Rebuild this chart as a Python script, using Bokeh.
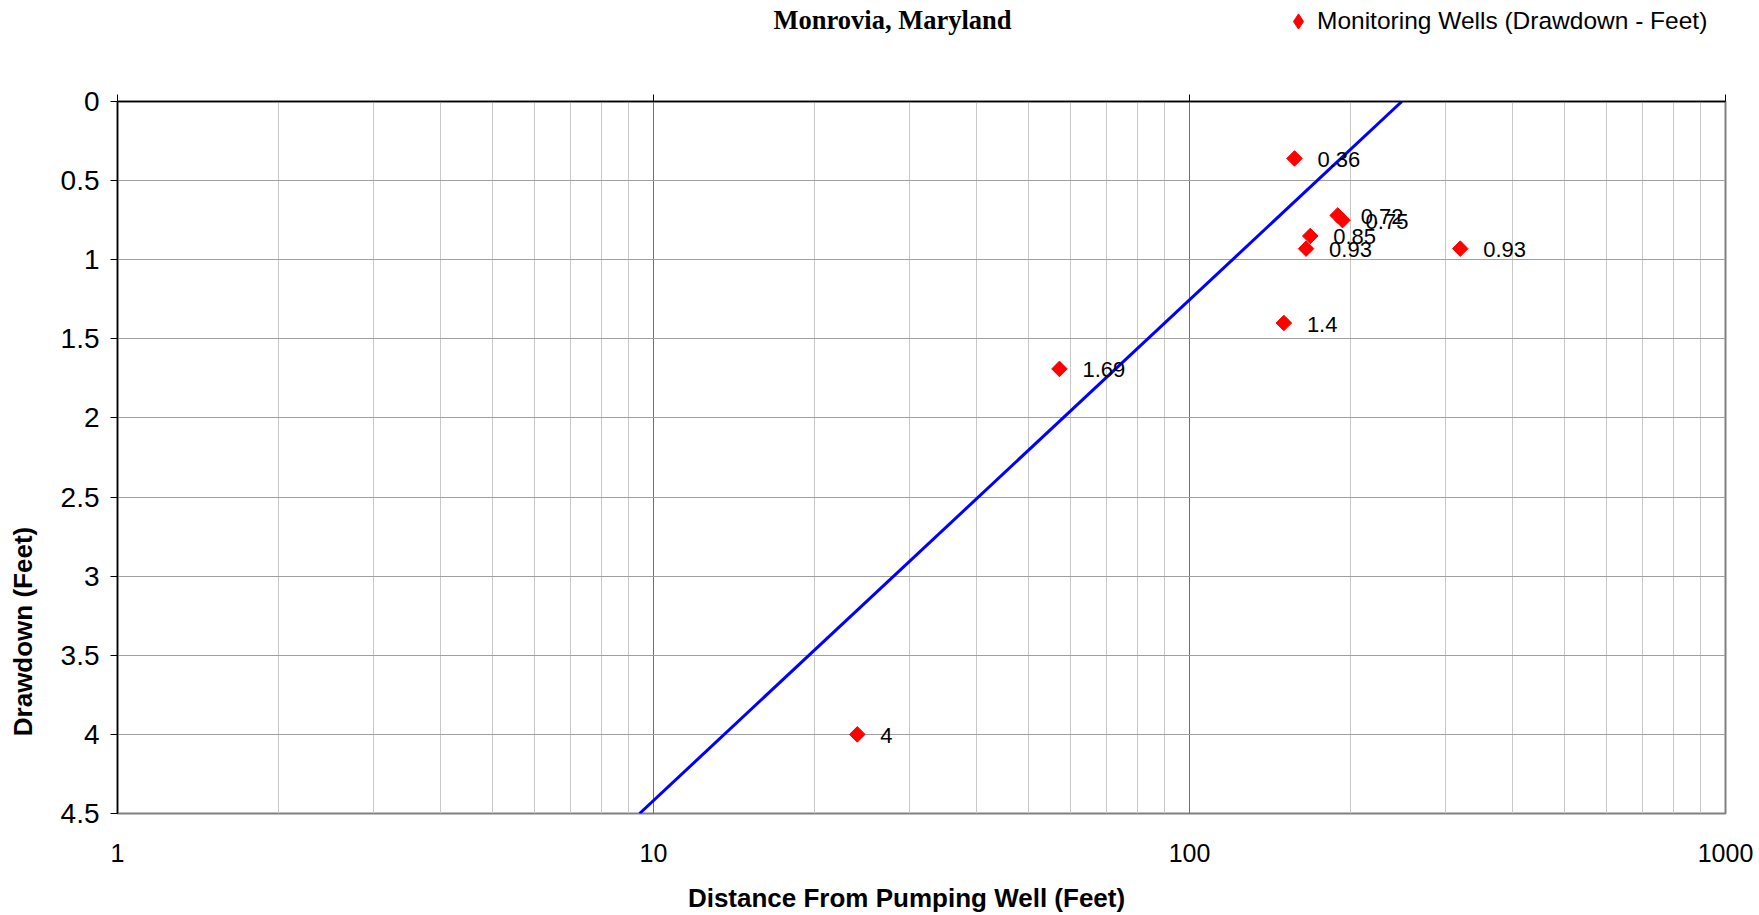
from bokeh.plotting import figure
from bokeh.layouts import column, row
from bokeh.models import (Range1d, FixedTicker, NumeralTickFormatter,
                          CustomJSTickFormatter, LogAxis, Label, Legend, LegendItem,
                          ColumnDataSource)
from bokeh.core.properties import value
from bokeh.embed import file_html
from bokeh.resources import INLINE
import math

# ---- data ----
distance_ft = [157, 189, 193, 168, 165, 320, 150, 57.2, 24]
drawdown_ft = [0.36, 0.72, 0.75, 0.85, 0.93, 0.93, 1.4, 1.69, 4.0]
point_labels = ["0.36", "0.72", "0.75", "0.85", "0.93", "0.93", "1.4", "1.69", "4"]
fit_distance_ft = [9.42, 249.0]
fit_drawdown_ft = [4.5, 0.0]
x_ticks = [1, 10, 100, 1000]
x_minor = [m * 10 ** e for e in range(3) for m in range(2, 10)]
y_ticks = [0, 0.5, 1, 1.5, 2, 2.5, 3, 3.5, 4, 4.5]

title_text = "Monrovia, Maryland"
legend_text = "Monitoring Wells (Drawdown - Feet)"
x_title = "Distance From Pumping Well (Feet)"
y_title = "Drawdown (Feet)"

SANS = "Liberation Sans"
SERIF = "Liberation Serif"
W, H = 1759, 915
STRIP_W = 45            # left strip holding the y-axis title
HEAD_H = 80
FOOT_H = 38
MAIN_H = H - HEAD_H - FOOT_H
FRAME_L, FRAME_R = 117, 1725      # plot-area edges on the page
INNER_W = W - STRIP_W
LEFT = FRAME_L - STRIP_W
RIGHT = W - FRAME_R


def banner(width, height, xr, left, right):
    f = figure(width=width, height=height, x_range=Range1d(*xr),
               y_range=Range1d(height, 0),
               output_backend="svg", toolbar_location=None, title=None,
               x_axis_location=None, y_axis_location=None,
               min_border_left=left, min_border_right=right,
               min_border_top=0, min_border_bottom=0,
               outline_line_color=None, background_fill_color="white",
               border_fill_color="white")
    f.xgrid.grid_line_color = None
    f.ygrid.grid_line_color = None
    return f


# ---------------- left strip (y-axis title) ----------------
strip = banner(STRIP_W, H, (0, STRIP_W), 0, 0)
strip.add_layout(Label(x=22, y=631, text=y_title, text_font=SANS,
                       text_font_style="bold", text_font_size="26px",
                       angle=math.pi / 2, text_align="center",
                       text_baseline="middle", text_color="black"))

# ---------------- header (title + legend) ----------------
head = banner(INNER_W, HEAD_H, (FRAME_L, FRAME_R), LEFT, RIGHT)
head.add_layout(Label(x=892, y=19, text=title_text, text_font=SERIF,
                      text_font_style="bold", text_font_size="26.5px",
                      text_align="center", text_baseline="middle",
                      text_color="black"))

# legend key renderer (kept outside the visible range; only its glyph style is used)
key = head.scatter(x=[-1e6], y=[-1e6], marker="diamond", fill_color="#FF0000",
                   line_color="#FF0000")
legend = Legend(items=[LegendItem(label=legend_text, renderers=[key])],
                location=(1298 - 19 - FRAME_L, 40), border_line_color=None,
                background_fill_alpha=0, padding=0, margin=0, spacing=0,
                glyph_width=38, glyph_height=38, label_height=38,
                label_standoff=0, label_text_font=SANS,
                label_text_font_size="24.5px", label_text_color="black",
                label_text_baseline="middle")
head.add_layout(legend)

# ---------------- footer (x-axis title) ----------------
foot = banner(INNER_W, FOOT_H, (FRAME_L, FRAME_R), LEFT, RIGHT)
foot.add_layout(Label(x=906, y=897 - (H - FOOT_H), text=x_title, text_font=SANS,
                      text_font_style="bold", text_font_size="26px",
                      text_align="center", text_baseline="middle",
                      text_color="black"))

# ---------------- main chart ----------------
p = figure(width=INNER_W, height=MAIN_H, x_axis_type="log",
           x_range=Range1d(1, 1000), y_range=Range1d(4.5, 0),
           output_backend="svg", toolbar_location=None, title=None,
           min_border_left=LEFT, min_border_right=RIGHT,
           min_border_top=21, min_border_bottom=MAIN_H - 21 - 712,
           background_fill_color="white", border_fill_color="white")

p.outline_line_color = "#808080"
p.outline_line_width = 2

xa = p.xaxis[0]
xa.ticker = FixedTicker(ticks=x_ticks)
xa.formatter = NumeralTickFormatter(format="0")
xa.axis_line_color = None
xa.major_tick_line_color = None
xa.minor_tick_line_color = None
xa.major_tick_out = 0
xa.major_tick_in = 0
xa.minor_tick_out = 0
xa.major_label_standoff = 30
xa.major_label_text_font = SANS
xa.major_label_text_font_size = "25px"
xa.major_label_text_color = "black"

top = LogAxis(ticker=FixedTicker(ticks=x_ticks), major_label_text_color=None,
              major_label_text_font_size="0px",
              axis_line_color="black", axis_line_width=1.5,
              major_tick_line_color="black", major_tick_out=7, major_tick_in=0,
              minor_tick_line_color=None, minor_tick_out=0, major_label_standoff=0)
p.add_layout(top, "above")

ya = p.yaxis[0]
ya.ticker = FixedTicker(ticks=y_ticks)
ya.formatter = CustomJSTickFormatter(code="return String(tick);")
ya.axis_line_color = "black"
ya.axis_line_width = 1.5
ya.major_tick_line_color = "black"
ya.major_tick_out = 7
ya.major_tick_in = 0
ya.minor_tick_line_color = None
ya.major_label_standoff = 11
ya.major_label_text_font = SANS
ya.major_label_text_font_size = "28px"
ya.major_label_text_color = "black"

p.xgrid.ticker = FixedTicker(ticks=x_ticks, minor_ticks=x_minor)
p.xgrid.grid_line_color = "#707070"
p.xgrid.grid_line_width = 1
p.xgrid.minor_grid_line_color = "#c8c8c8"
p.xgrid.minor_grid_line_width = 1
p.ygrid.ticker = FixedTicker(ticks=y_ticks)
p.ygrid.grid_line_color = "#a0a0a0"
p.ygrid.grid_line_width = 1

p.line(fit_distance_ft, fit_drawdown_ft, line_color="#0000FF", line_width=3)

src = ColumnDataSource(dict(x=distance_ft, y=drawdown_ft, t=point_labels))
p.scatter("x", "y", source=src, marker="square", angle=math.pi / 4,
          size=11, fill_color="#FF0000", line_color="#FF0000")
p.text("x", "y", text="t", source=src, x_offset=23, y_offset=1,
       text_font=value(SANS), text_font_size="22px", text_color="black",
       text_align="left", text_baseline="middle")

layout = row(strip, column(head, p, foot, spacing=0), spacing=0)
open("out.html", "w").write(file_html(layout, INLINE))
